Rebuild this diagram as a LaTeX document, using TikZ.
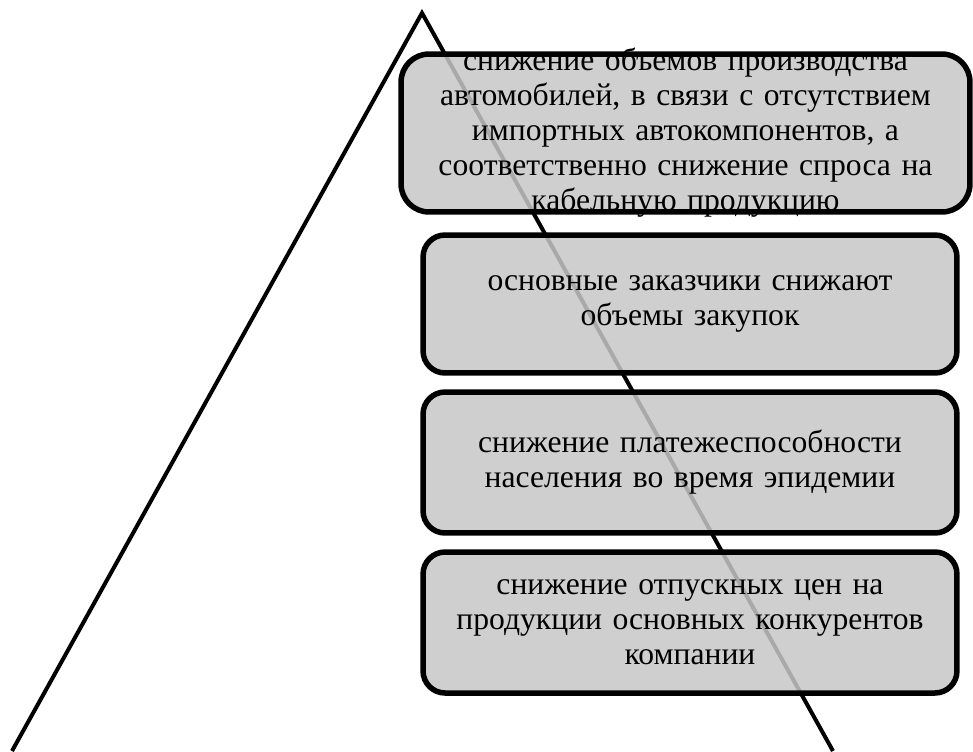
\documentclass[tikz,border=0pt]{standalone}
\usepackage{fontspec}
\setmainfont{Liberation Serif}
\definecolor{boxgray}{gray}{0.78}
\tikzset{
  riskbox/.style={draw=black, line width=0.11cm, rounded corners=0.44cm,
    fill=boxgray, fill opacity=0.85, inner sep=0pt},
  risktext/.style={align=center, inner sep=0pt, text width=11cm,
    font=\fontsize{18}{19.9}\selectfont}
}
\begin{document}
\begin{tikzpicture}[x=0.02cm, y=-0.02cm]
		\useasboundingbox (0,0) rectangle (973,751);
		% pyramid
		\coordinate (left) at (12,751);
		\coordinate (apex) at (422,13);
		\coordinate (right) at (833,751);
		\draw[line width=0.08cm, line join=miter] (left) -- (apex) -- (right);
		% boxes
		\node[riskbox, minimum width=11.38cm, minimum height=3.16cm, rounded corners=0.56cm] (box1) at (685.5,133) {};
		\node[riskbox, minimum width=10.68cm, minimum height=2.76cm] (box2) at (690,304) {};
		\node[riskbox, minimum width=10.68cm, minimum height=2.82cm] (box3) at (690,462.5) {};
		\node[riskbox, minimum width=10.68cm, minimum height=2.82cm] (box4) at (690,622.5) {};
		% texts
		\node[risktext] (text1) at (box1) {снижение объемов производства\\автомобилей, в связи с отсутствием\\импортных автокомпонентов, а\\соответственно снижение спроса на\\кабельную продукцию};
		\node[risktext] (text2) at (box2) {основные заказчики снижают\\объемы закупок};
		\node[risktext] (text3) at (box3) {снижение платежеспособности\\населения во время эпидемии};
		\node[risktext] (text4) at (box4) {снижение отпускных цен на\\продукции основных конкурентов\\компании};
	\end{tikzpicture}
\end{document}
